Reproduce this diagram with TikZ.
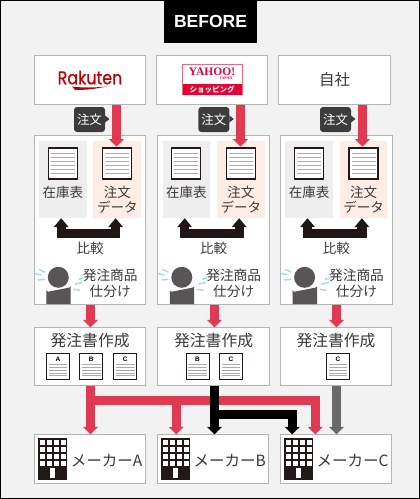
\documentclass[tikz,border=0pt]{standalone}
\usepackage{graphicx}
\usepackage{fontspec}
\setmainfont{Noto Sans CJK JP}
\newfontfamily\latinbold{Liberation Sans}
\newfontfamily\logofont[FakeBold=0.6]{Poppins}
\newfontfamily\serifbold{Liberation Serif}
\usetikzlibrary{arrows.meta}
\definecolor{bgc}{HTML}{F2F2F2}
\definecolor{edgec}{HTML}{B4B4B4}
\definecolor{txtc}{HTML}{3A3A3A}
\definecolor{redc}{HTML}{E03A53}
\definecolor{greyc}{HTML}{6A6A6A}
\definecolor{darkc}{HTML}{231815}
\definecolor{bubc}{HTML}{3C3C3C}
\definecolor{persc}{HTML}{595455}
\definecolor{bluec}{HTML}{A9D8EA}
\definecolor{graybox}{HTML}{EEEEEE}
\definecolor{peach}{HTML}{FDEDE4}
\definecolor{linec}{HTML}{ABABAB}
\definecolor{rakc}{HTML}{BF0000}
\definecolor{yahc}{HTML}{E60033}
\tikzset{
  panel/.style={draw=edgec,line width=1pt,fill=white,inner sep=0pt,outer sep=0pt},
  tint/.style={inner sep=0pt,outer sep=0pt,minimum width=47.6pt,minimum height=77pt},
  label/.style={inner sep=0pt,text=txtc,align=center},
  bubble/.style={fill=bubc,rounded corners=3pt,text=white,inner sep=0pt,minimum width=31pt,minimum height=25pt,font=\fontsize{12.5}{14}\selectfont},
  fatline/.style={line width=9.2pt,line join=miter},
  headtip/.style={-{Triangle[length=7.5pt,width=14.5pt]}},
  redarrow/.style={fatline,headtip,draw=redc},
  blackarrow/.style={fatline,headtip,draw=black},
  greyarrow/.style={fatline,headtip,draw=greyc},
  bothheads/.style={line width=9.2pt,line join=miter,draw=darkc!90!black,{Triangle[length=9pt,width=14.5pt]}-{Triangle[length=9pt,width=14.5pt]}},
  docbig/.style={draw=darkc,line width=1.2pt,fill=white,inner sep=0pt,minimum width=29pt,minimum height=31pt},
  docsmall/.style={draw=darkc,line width=1pt,fill=white,inner sep=0pt,minimum width=23pt,minimum height=26pt},
  docline/.style={draw=linec,line width=1.1pt},
  sweat/.style={draw=bluec,line width=1.4pt},
  bldg/.style={fill=darkc,inner sep=0pt,minimum width=29pt,minimum height=42pt},
}
\newcommand{\bigdoc}[3]{%
  \node[docbig] (#1) at (#2,#3) {};
  \foreach \k in {0,...,5}
    \draw[docline] ({#2-12},{#3-10+4*\k}) -- ({#2+12},{#3-10+4*\k});
}
\newcommand{\smalldoc}[4]{%
  \node[docsmall] (#1) at (#2,#3) {};
  \node[inner sep=0pt] at (#2,{#3-7}) {\latinbold\fontsize{6.5}{7}\selectfont\bfseries #4};
  \foreach \k in {0,...,4}
    \draw[linec,line width=.8pt] ({#2-9.3},{#3-2+2.8*\k}) -- ({#2+9.3},{#3-2+2.8*\k});
}
\newcommand{\building}[3]{%
  \node[bldg] (#1) at (#2,#3) {};
  \foreach \r in {0,1,2,3}
    \foreach \q in {0,1,2,3}
      \fill[white] ({#2-12.5+7*\q},{#3-19+7*\r}) rectangle +(4.8,4.6);
  \fill[white] ({#2-2.4},{#3+9.3}) rectangle +(4.8,9.4);
}
\begin{document}
\begin{tikzpicture}[x=1pt,y=-1pt]
\useasboundingbox (0,0) rectangle (420,499);
\fill[bgc] (0,0) rectangle (420,499);
\draw[black,line width=1.2pt] (.6,.6) rectangle (419.4,498.4);
\node[fill=black,text=white,inner sep=0pt,minimum width=93pt,minimum height=43pt] (before) at (210.5,21.5) {\latinbold\fontsize{17.5}{20}\selectfont\bfseries BEFORE};

% source boxes
\node[panel,minimum width=111.5pt,minimum height=49.5pt] (rak) at (89.8,80) {};
\node[panel,minimum width=111.5pt,minimum height=49.5pt] (yah) at (212.2,80) {};
\node[panel,minimum width=111.5pt,minimum height=49.5pt] (own) at (334.5,80) {};
\node[inner sep=0pt,text=rakc] (raklogo) at (90,77.5) {\logofont\fontsize{18.5}{20}\selectfont\scalebox{.86}[1]{Rakuten}};
\fill[rakc] (72,86.6) .. controls (85,88) and (97,87.6) .. (107,86.4) .. controls (97,88.6) and (85,90.4) .. (75,89.8) -- cycle;
\node[draw=yahc!60,line width=.8pt,fill=white,inner sep=0pt,minimum width=59.5pt,minimum height=30pt] (yahbox) at (212.2,79.7) {};
\fill[yahc] (182.5,84.2) rectangle (242,94.7);
\node[inner sep=0pt,text=yahc] (yahname) at (212,71.7) {\serifbold\fontsize{11.5}{12}\selectfont\bfseries YAHOO!};
\node[inner sep=0pt,text=yahc] (yahjp) at (226,78.6) {\serifbold\fontsize{4}{4}\selectfont\bfseries JAPAN};
\node[inner sep=0pt,text=white] (yahshop) at (212,89.5) {\fontsize{7.5}{8}\selectfont\bfseries ショッピング};
\node[label,font=\fontsize{15.5}{17}\selectfont] (ownt) at (334.5,80) {自社};

% columns
\foreach \c/\L/\B/\Sx in {1/34.5/74/105,2/158/198.3/229.3,3/280.8/320/351}{
  \pgfmathsetmacro{\cx}{\L+55.6}
  \pgfmathsetmacro{\gx}{\L+28.3}
  \pgfmathsetmacro{\px}{\L+82.75}
  \node[panel,minimum width=111.3pt,minimum height=169pt] (mid\c) at (\cx,220) {};
  \node[tint,fill=graybox] (gray\c) at (\gx,179.5) {};
  \node[tint,fill=peach] (tint\c) at (\px,179.5) {};
  \bigdoc{dg\c}{\gx}{163.5}
  \bigdoc{dp\c}{\px}{163.5}
  \node[label,font=\fontsize{13.5}{15}\selectfont] (stock\c) at (\gx,192) {在庫表};
  \node[label,font=\fontsize{13.5}{15.5}\selectfont] (order\c) at (\px,199.5) {注文\\データ};
  \node[label,font=\fontsize{13.5}{15}\selectfont] (cmp\c) at (\cx,248) {比較};
  \node[label,font=\fontsize{13.7}{15.4}\selectfont] (sort\c) at ({\L+75.7},283.3) {発注商品\\仕分け};
  % person
  \fill[persc] ({\L+23.8},277.3) circle (10.5);
  \fill[persc] ({\L+11.8},304) -- ({\L+11.8},289.7) arc[start angle=180,end angle=90,radius=2] -- ({\L+34.2},287.7) arc[start angle=90,end angle=0,radius=2] -- ({\L+36.2},304) -- cycle;
  \draw[sweat] ({\L+4.5},269.3) -- ({\L+10.5},272.3);
  \draw[sweat] ({\L+.3},273.5) -- ({\L+6.5},275);
  \draw[sweat] ({\L+3.5},280) -- ({\L+10.5},279.3);
  \draw[sweat] ({\L+44.3},279.3) -- ({\L+49},278);
  \draw[sweat] ({\L+40.5},284.3) -- ({\L+48},282.3);
  \draw[sweat] ({\L+38.8},289.3) -- ({\L+45.5},290.3);
  % compare bracket
  \draw[bothheads] ([xshift=-1.6pt,yshift=-.2pt]gray\c.south) -- ++(0,15.5) -| ([xshift=-1.6pt,yshift=-.2pt]tint\c.south);
  % bubble
  \node[bubble] (bub\c) at ({\B+15.5},119.5) {注文};
  \fill[bubc] (\Sx,115.5) -- ({\Sx+4.5},119) -- (\Sx,122.5) -- cycle;
}

% order sheet boxes
\node[panel,minimum width=111.3pt,minimum height=58.4pt] (low1) at (90.1,356.5) {};
\node[panel,minimum width=111.3pt,minimum height=58.4pt] (low2) at (213.6,356.5) {};
\node[panel,minimum width=111.3pt,minimum height=58.4pt] (low3) at (336,356.5) {};
\foreach \c/\X in {1/90.1,2/213.6,3/336}
  \node[label,font=\fontsize{15.8}{18}\selectfont] (lowt\c) at (\X,340.7) {発注書作成};
\smalldoc{a1}{58}{366.5}{A}
\smalldoc{b1}{91.3}{366.5}{B}
\smalldoc{c1}{125.2}{366.5}{C}
\smalldoc{b2}{197.5}{366.5}{B}
\smalldoc{c2}{231}{366.5}{C}
\smalldoc{c3}{338}{366.5}{C}

% maker boxes
\node[panel,minimum width=111.3pt,minimum height=49pt] (mka) at (90.1,458.9) {};
\node[panel,minimum width=111.3pt,minimum height=49pt] (mkb) at (213,458.9) {};
\node[panel,minimum width=111.3pt,minimum height=49pt] (mkc) at (336,458.9) {};
\building{ba}{52.5}{459}
\building{bb}{175.5}{459}
\building{bc}{298.5}{459}
\node[label,font=\fontsize{15.5}{17}\selectfont] (mkta) at (106.7,461) {メーカーA};
\node[label,font=\fontsize{15.5}{17}\selectfont] (mktb) at (229.7,461) {メーカーB};
\node[label,font=\fontsize{15.5}{17}\selectfont] (mktc) at (352.6,461) {メーカーC};

% connector guides
\coordinate (u1) at (116.5,0);
\coordinate (u2) at (240.5,0);
\coordinate (u3) at (362.5,0);
\coordinate (v1) at (90.5,0);
\coordinate (v2) at (214.5,0);
\coordinate (v3) at (336.5,0);
\coordinate (w2) at (176.3,0);
\coordinate (w3) at (315.3,0);
\coordinate (w4) at (292.3,0);
\coordinate (rr) at (0,400.5);
\coordinate (kk) at (0,414.3);
\coordinate (tipline) at (0,146.7);

\draw[redarrow] (u1 |- rak.south) -- (u1 |- tipline);
\draw[redarrow] (u2 |- yah.south) -- (u2 |- tipline);
\draw[redarrow] (u3 |- own.south) -- (u3 |- tipline);
\draw[redarrow] (v1 |- mid1.south) -- (v1 |- low1.north);
\draw[redarrow] (v2 |- mid2.south) -- (v2 |- low2.north);
\draw[redarrow] (v3 |- mid3.south) -- (v3 |- low3.north);

\draw[redarrow] (v1 |- low1.south) -- (v1 |- mka.north);
\draw[redarrow] (w2 |- rr) -- (w2 |- mkb.north);
\draw[redarrow] (v1 |- rr) -| (w3 |- mkc.north);
\draw[blackarrow] (v2 |- low2.south) -- (v2 |- mkb.north);
\draw[blackarrow] (v2 |- kk) -| (w4 |- mkc.north);
\draw[greyarrow] (v3 |- low3.south) -- (v3 |- mkc.north);
\end{tikzpicture}
\end{document}
